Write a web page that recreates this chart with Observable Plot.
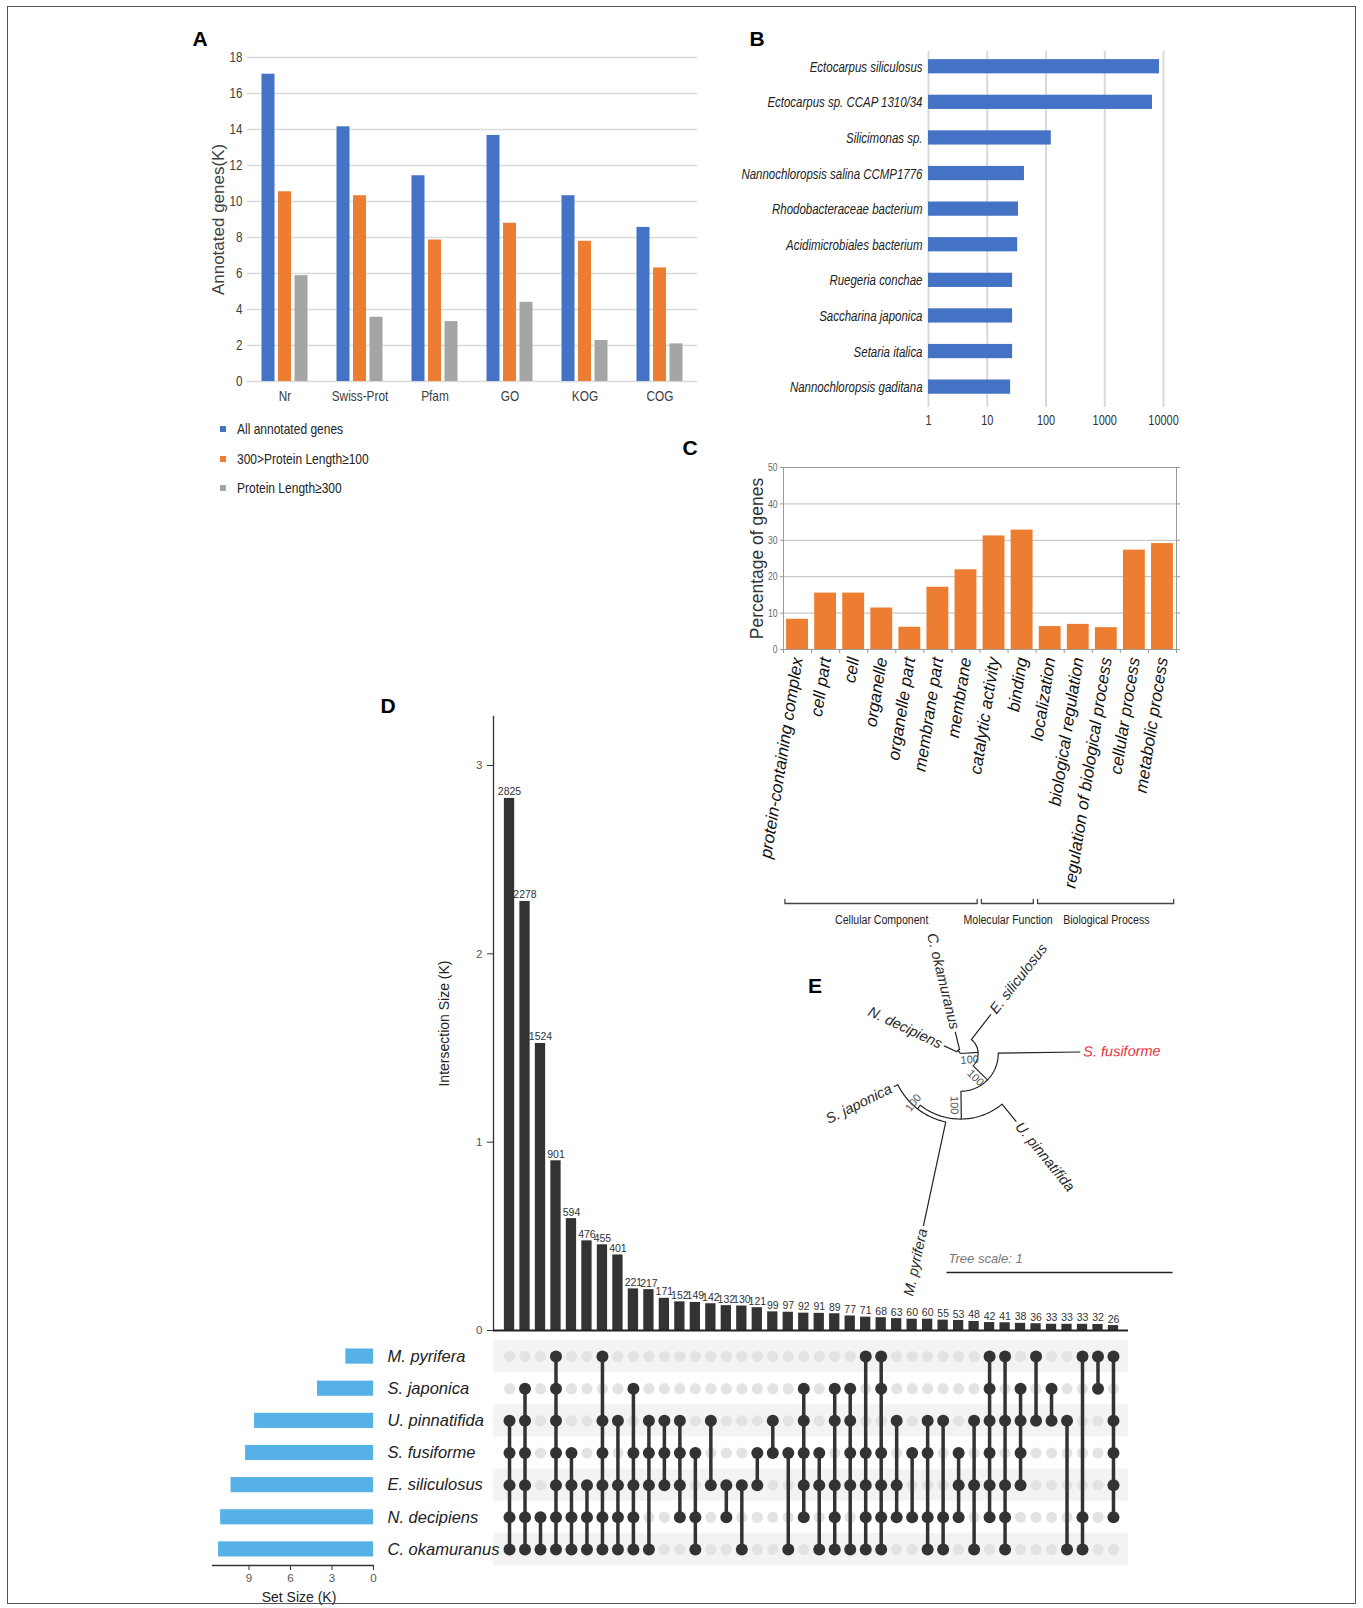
<!DOCTYPE html>
<html><head><meta charset="utf-8">
<script src="https://cdn.jsdelivr.net/npm/d3@7"></script>
<script src="https://cdn.jsdelivr.net/npm/@observablehq/plot@0.6"></script>
<style>
html,body{margin:0;padding:0;background:#fff;}
#page{position:relative;width:1363px;height:1608px;overflow:hidden;background:#fff;font-family:"Liberation Sans",Arial,Helvetica,sans-serif;}
.panel{position:absolute;}
.panel svg{display:block;max-width:none;}
.letter{position:absolute;font-weight:bold;font-size:21px;line-height:1;transform:translate(-50%,-50%);color:#000;}
#border{position:absolute;left:7px;top:6px;width:1349px;height:1598px;border:1.5px solid #555;box-sizing:border-box;}
.leg{position:absolute;font-size:15px;color:#222;white-space:nowrap;line-height:16px;}
.leg span{display:inline-block;transform:scaleX(0.8);transform-origin:0 50%;}
.leg i{position:absolute;width:6px;height:6px;left:-17px;top:5px;}
</style></head>
<body><div id="page"><div id="border"></div></div>
<script>
// ================= DATA =================
// Panel A
const dbs = ["Nr","Swiss-Prot","Pfam","GO","KOG","COG"];
const seriesA = ["All annotated genes","300>Protein Length\u2265100","Protein Length\u2265300"];
const allAnnotated = [17.07,14.15,11.43,13.67,10.32,8.56];
const len100to300 = [10.54,10.32,7.86,8.79,7.79,6.31];
const len300 = [5.88,3.57,3.33,4.40,2.28,2.09];
const ticksA = [0,2,4,6,8,10,12,14,16,18];

// Panel B
const species = ["Ectocarpus siliculosus","Ectocarpus sp. CCAP 1310/34","Silicimonas sp.","Nannochloropsis salina CCMP1776","Rhodobacteraceae bacterium","Acidimicrobiales bacterium","Ruegeria conchae","Saccharina japonica","Setaria italica","Nannochloropsis gaditana"];
const hits = [8550,6500,123,43,34,33,27,27,27,25];
const ticksB = [1,10,100,1000,10000];

// Panel C
const goTerms = ["protein-containing complex","cell part","cell","organelle","organelle part","membrane part","membrane","catalytic activity","binding","localization","biological regulation","regulation of biological process","cellular process","metabolic process"];
const goPct = [8.3,15.5,15.5,11.4,6.1,17.1,21.9,31.2,32.8,6.3,6.9,6.0,27.3,29.1];
const goGroups = ["Cellular Component","Molecular Function","Biological Process"];
const goGroupSizes = [7,2,5];
const ticksC = [0,10,20,30,40,50];

// Panel D
const setNames = ["M. pyrifera","S. japonica","U. pinnatifida","S. fusiforme","E. siliculosus","N. decipiens","C. okamuranus"];
const setCodes = ["M","Sj","U","Sf","E","N","C"];
const setSizesK = [2.0,4.05,8.6,9.25,10.3,11.05,11.2];
const intersectionSizes = [2825,2278,1524,901,594,476,455,401,221,217,171,152,149,142,132,130,121,99,97,92,91,89,77,71,68,63,60,60,55,53,48,42,41,38,36,33,33,33,32,26];
const intersectionMembers = ["U Sf E N C","Sj U Sf E N C","N C","M Sj U Sf E N C","Sf E N C","E N C","M U Sf E N C","U E N C","Sj Sf E N C","U Sf E C",
 "U Sf E","U Sf E N","Sf N C","U E","E N","E C","Sf E","U Sf","Sf C","Sj U Sf E N",
 "Sf E C","Sj U E N C","Sj U Sf E C","M Sf E N C","M Sj Sf E N C","U E N","Sf N","U Sf N C","U N C","Sf E N",
 "U E C","M Sj U Sf E N","M U E N C","Sj U Sf E","M U","Sj U","U C","M N C","M Sj","M U Sf E N"];
const ticksD = [0,1,2,3];
const ticksSet = [0,3,6,9];

// Panel E (phylogeny: node, parent, branch length, bootstrap)
const treeNodeNames = ["root","NC","N. decipiens","C. okamuranus","R","E. siliculosus","P","S. fusiforme","Q","U. pinnatifida","MS","M. pyrifera","S. japonica"];
const treeParents = [null,"root","NC","NC","root","R","R","P","P","Q","Q","MS","MS"];
const treeBranchLengths = [0,0.018,0.062,0.08,0.078,0.142,0.089,0.363,0.123,0.10,0.02,0.47,0.02];
const treeSupport = [null,null,null,null,100,null,100,null,100,null,100,null,null];
const highlightLeaf = "S. fusiforme";
const treeScaleLength = 1;

// ================= STYLE / HELPERS =================
const F = '"Liberation Sans", Arial, Helvetica, sans-serif';
const colorsA = ["#4472C4","#ED7D31","#A5A5A5"];
const page = document.getElementById("page");
function place(node, left, top, w, h) {
  const d = document.createElement("div");
  d.className = "panel";
  d.style.left = left + "px"; d.style.top = top + "px";
  d.style.width = w + "px"; d.style.height = h + "px";
  d.appendChild(node); page.appendChild(d);
  return node;
}
function letter(t, x, y) {
  const d = document.createElement("div"); d.className = "letter"; d.textContent = t;
  d.style.left = x + "px"; d.style.top = y + "px"; page.appendChild(d);
}
// condense text glyphs horizontally (narrow typeface look), keeping them as real text
function condense(svg, selector, factor) {
  svg.querySelectorAll(selector).forEach(t => {
    const w = t.getComputedTextLength();
    if (w > 0) { t.setAttribute("textLength", (w * factor).toFixed(1)); t.setAttribute("lengthAdjust", "spacingAndGlyphs"); }
  });
}
const TICKY = 'g[aria-label="y-axis tick label"] text', TICKX = 'g[aria-label="x-axis tick label"] text';
const baseStyle = {fontFamily: F, fontSize: "12px", color: "#333", background: "transparent", overflow: "visible"};

// ================= PANEL A =================
{
  const W = 530, H = 380, mL = 57, mR = 23;
  const band = (W - mL - mR) / dbs.length;
  const barW = 13, barStep = 16.5, groupStart = (band - (2 * barStep + barW)) / 2;
  const valsA = [allAnnotated, len100to300, len300];
  const marks = [
    Plot.gridY({ticks: ticksA, stroke: "#d9d9d9", strokeOpacity: 1, strokeWidth: 1.5}),
    Plot.axisY({ticks: ticksA, tickSize: 0, tickPadding: 5, fontSize: 14, fill: "#404040", label: null}),
    Plot.axisX({tickSize: 0, tickPadding: 9, fontSize: 15, fill: "#404040", label: null}),
    Plot.text(["Annotated genes(K)"], {frameAnchor: "left", textAnchor: "middle", rotate: -90, dx: -29, fontSize: 17, fill: "#404040"})
  ];
  valsA.forEach((vals, j) => {
    const il = groupStart + j * barStep;
    marks.push(Plot.barY(dbs.map((db, i) => ({db, v: vals[i]})), {x: "db", y: "v", fill: colorsA[j], insetLeft: il, insetRight: band - il - barW}));
  });
  const p = Plot.plot({
    width: W, height: H, marginLeft: mL, marginRight: mR, marginTop: 17, marginBottom: 39,
    style: baseStyle,
    x: {domain: dbs, padding: 0, round: false},
    y: {domain: [0, 18]},
    marks
  });
  place(p, 190, 40, W, H);
  condense(p, TICKY, 0.83);
  condense(p, TICKX, 0.79);
  // legend
  const ys = [421, 451, 480];
  seriesA.forEach((s, j) => {
    const d = document.createElement("div"); d.className = "leg";
    d.style.left = "237px"; d.style.top = ys[j] + "px";
    const sq = document.createElement("i"); sq.style.background = colorsA[j];
    const sp = document.createElement("span"); sp.textContent = s;
    d.appendChild(sq); d.appendChild(sp); page.appendChild(d);
  });
}
letter("A", 200, 38);

// ================= PANEL B =================
{
  const W = 470, H = 395;
  const dataB = species.map((name, i) => ({name, v: hits[i]}));
  const p = Plot.plot({
    width: W, height: H, marginLeft: 208, marginRight: 27, marginTop: 11, marginBottom: 28,
    style: baseStyle,
    x: {type: "log", domain: [1, 10000]},
    y: {domain: species, paddingInner: 0.6, paddingOuter: 0.3, align: 0.38, round: false},
    marks: [
      Plot.ruleX(ticksB, {stroke: "#d9d9d9", strokeWidth: 2}),
      Plot.barX(dataB, {x1: () => 1, x2: "v", y: "name", fill: "#4472C4"}),
      Plot.axisX({ticks: ticksB, tickFormat: d => String(d), tickSize: 0, tickPadding: 8, fontSize: 14, fill: "#333", label: null}),
      Plot.axisY({tickSize: 0, tickPadding: 6, fontSize: 15.5, fontStyle: "italic", fill: "#222", label: null})
    ]
  });
  place(p, 720, 40, W, H);
  condense(p, TICKY, 0.74);
  condense(p, TICKX, 0.78);
}
letter("B", 757, 38);

// ================= PANEL C =================
{
  const W = 510, H = 480;
  const dataC = goTerms.map((t, i) => ({t, i, v: goPct[i]}));
  const p = Plot.plot({
    width: W, height: H, marginLeft: 103, marginRight: 14, marginTop: 12, marginBottom: 286,
    style: baseStyle,
    x: {domain: [0, goTerms.length], axis: null},
    y: {domain: [0, 50]},
    marks: [
      Plot.gridY({ticks: [10, 20, 30, 40], stroke: "#bdbdbd", strokeOpacity: 1}),
      Plot.frame({stroke: "#9a9a9a"}),
      Plot.rectY(dataC, {x1: "i", x2: d => d.i + 1, y: "v", fill: "#ED7D31", insetLeft: 3.1, insetRight: 3.1}),
      Plot.axisY({ticks: ticksC, tickSize: 3, tickPadding: 3, fontSize: 11.5, fill: "#666", stroke: "#9a9a9a", label: null}),
      Plot.axisY({anchor: "right", ticks: ticksC, tickSize: 3, tickFormat: () => "", stroke: "#9a9a9a", label: null}),
      Plot.axisX({ticks: d3.range(goTerms.length + 1), tickSize: 4, tickFormat: () => "", stroke: "#9a9a9a", label: null}),
      Plot.text(["Percentage of genes"], {frameAnchor: "left", textAnchor: "middle", rotate: -90, dx: -26, fontSize: 17.5, fill: "#333"}),
      Plot.text(dataC, {x: d => d.i + 0.5, y: () => 0, text: "t", rotate: -81, textAnchor: "end", dy: 8, fontSize: 17, fontStyle: "italic", fill: "#111"})
    ]
  });
  place(p, 680, 455, W, H);
  condense(p, TICKY, 0.75);

  // group brackets
  let acc = 0;
  const groups = goGroups.map((g, k) => { const s = acc; acc += goGroupSizes[k]; return {g, s, e: acc}; });
  const pts = groups.flatMap(({g, s, e}) => [
    {g, x: s + 0.05, y: 1}, {g, x: s + 0.05, y: 0}, {g, x: e - 0.1, y: 0}, {g, x: e - 0.1, y: 1}
  ]);
  const p2 = Plot.plot({
    width: W, height: 40, marginLeft: 103, marginRight: 14, marginTop: 4, marginBottom: 32,
    style: baseStyle,
    x: {domain: [0, goTerms.length], axis: null},
    y: {domain: [0, 1], axis: null},
    marks: [
      Plot.line(pts, {x: "x", y: "y", z: "g", stroke: "#444", strokeWidth: 1.3}),
      Plot.text(groups, {x: d => (d.s + d.e) / 2, y: () => 0, text: "g", dy: 17, fontSize: 12, fill: "#222"})
    ]
  });
  place(p2, 680, 895, W, 40);
  condense(p2, "text", 0.88);
}
letter("C", 690, 447);

// ================= PANEL D =================
const inter = intersectionSizes.map((n, i) => ({i, n, k: n / 1000, members: intersectionMembers[i].split(" ")}));
const cells = inter.flatMap(d => setCodes.map((c, r) => ({i: d.i, r, on: d.members.includes(c)})));
const onCells = cells.filter(c => c.on);
const xDomainD = [-1.035, 39.97];
{
  const W = 760, H = 645;
  const p = Plot.plot({
    width: W, height: H, marginLeft: 113, marginRight: 12, marginTop: 16, marginBottom: 15,
    style: baseStyle,
    x: {domain: xDomainD, axis: null},
    y: {domain: [0, 3.26]},
    marks: [
      Plot.rectY(inter, {x1: d => d.i - 0.5, x2: d => d.i + 0.5, y: "k", fill: "#333", insetLeft: 2.6, insetRight: 2.6}),
      Plot.text(inter, {x: "i", y: "k", text: d => String(d.n), dy: -3, lineAnchor: "bottom", fontSize: 10.5, fill: "#333"}),
      Plot.axisY({ticks: ticksD, tickFormat: d => String(d), tickSize: 6, tickPadding: 5, fontSize: 11.5, fill: "#555", stroke: "#333", label: null}),
      Plot.frame({anchor: "left", stroke: "#333", strokeWidth: 1.3}),
      Plot.ruleY([0], {stroke: "#222", strokeWidth: 2}),
      Plot.text(["Intersection Size (K)"], {frameAnchor: "left", textAnchor: "middle", rotate: -90, dx: -49, fontSize: 14, fill: "#222"})
    ]
  });
  place(p, 380, 700, W, H);
}
{
  const W = 760, H = 230;
  const stripes = setNames.map((s, r) => ({r})).filter(d => d.r % 2 === 0);
  const p = Plot.plot({
    width: W, height: H, marginLeft: 113, marginRight: 12, marginTop: 2, marginBottom: 3,
    style: baseStyle,
    x: {domain: xDomainD, axis: null},
    y: {domain: [setNames.length - 0.5, -0.5], axis: null},
    marks: [
      Plot.rect(stripes, {y1: d => d.r - 0.5, y2: d => d.r + 0.5, fill: "#f3f3f3"}),
      Plot.dot(cells.filter(c => !c.on), {x: "i", y: "r", r: 5.6, fill: "#e3e3e3", stroke: null}),
      Plot.line(onCells, {x: "i", y: "r", z: "i", stroke: "#333", strokeWidth: 3.5}),
      Plot.dot(onCells, {x: "i", y: "r", r: 6, fill: "#333", stroke: null})
    ]
  });
  place(p, 380, 1338, W, H);
}
{
  const W = 300, H = 270;
  const sets = setNames.map((name, r) => ({name, r, k: setSizesK[r]}));
  const p = Plot.plot({
    width: W, height: H, marginLeft: 12, marginRight: 127, marginTop: 2, marginBottom: 43,
    style: baseStyle,
    x: {domain: [0, 11.64], reverse: true},
    y: {domain: [setNames.length - 0.5, -0.5], axis: null},
    marks: [
      Plot.rectX(sets, {x: "k", y1: d => d.r - 0.5, y2: d => d.r + 0.5, insetTop: 8.5, insetBottom: 8.5, fill: "#56B1E6"}),
      Plot.text(sets, {x: () => 0, y: "r", text: "name", dx: 14, textAnchor: "start", fontSize: 16.5, fontStyle: "italic", fill: "#222"}),
      Plot.axisX({ticks: ticksSet, tickSize: 5, tickPadding: 3, fontSize: 11.5, fill: "#555", stroke: "#333", label: null}),
      Plot.frame({anchor: "bottom", stroke: "#333", strokeWidth: 1.3}),
      Plot.text(["Set Size (K)"], {frameAnchor: "bottom", lineAnchor: "middle", dy: 32, dx: 6, fontSize: 14, fill: "#222"})
    ]
  });
  place(p, 200, 1338, W, H);
}
letter("D", 388, 705);

// ================= PANEL E =================
{
  const W = 400, H = 370, unitPx = 226, cx = 180, cy = 133;
  const root = d3.stratify().id(d => d.name).parentId(d => d.parent)(
    treeNodeNames.map((name, i) => ({name, parent: treeParents[i], bl: treeBranchLengths[i], support: treeSupport[i]})));
  const startAngle = 205;
  const leaves = root.leaves();
  leaves.forEach((l, k) => { l.angle = startAngle + k * 360 / leaves.length; });
  root.eachAfter(n => { if (n.children) n.angle = (n.children[0].angle + n.children[n.children.length - 1].angle) / 2; });
  root.eachBefore(n => { n.radius = (n.parent ? n.parent.radius : 0) + n.data.bl; });
  const rad = a => a * Math.PI / 180;
  const pol = (r, a) => [r * Math.cos(rad(a)), r * Math.sin(rad(a))];
  const norm = a => ((a % 360) + 360) % 360;
  const branches = root.descendants().filter(n => n.parent).map(n => {
    const [x1, y1] = pol(n.parent.radius, n.angle), [x2, y2] = pol(n.radius, n.angle);
    return {x1, y1, x2, y2};
  });
  const arcs = root.descendants().filter(n => n.children && n.radius > 0).flatMap(n => {
    const a0 = n.children[0].angle, a1 = n.children[n.children.length - 1].angle, steps = 60;
    return d3.range(steps + 1).map(s => { const [x, y] = pol(n.radius, a0 + (a1 - a0) * s / steps); return {id: n.id, x, y}; });
  });
  const gap = 3 / unitPx;
  const labels = leaves.map(l => {
    const a = norm(l.angle), right = a < 90 || a > 270;
    const [x, y] = pol(l.radius + gap, l.angle);
    return {name: l.id, x, y, rot: right ? a : a - 180, right, color: l.id === highlightLeaf ? "#E8333D" : "#2a2a2a"};
  });
  const off = 7 / unitPx;
  const supports = root.descendants().filter(n => n.data.support != null).map(n => {
    const [bx, by] = pol((n.parent.radius + n.radius) / 2, n.angle), [ox, oy] = pol(off, n.angle + 90);
    const a = norm(n.angle);
    return {x: bx + ox, y: by + oy, t: String(n.data.support), rot: (a < 90 || a > 270) ? a : a - 180};
  });
  const xd = [-cx / unitPx, (W - cx) / unitPx], yd = [-cy / unitPx, (H - cy) / unitPx];
  const sbRight = xd[1] - 8 / unitPx, sbY = yd[1] - 18 / unitPx;
  const scaleBar = [{x1: sbRight - treeScaleLength, x2: sbRight, y: sbY, t: "Tree scale: " + treeScaleLength}];
  const p = Plot.plot({
    width: W, height: H, margin: 0,
    style: baseStyle,
    x: {domain: xd, axis: null},
    y: {domain: yd, reverse: true, axis: null},
    marks: [
      Plot.line(arcs, {x: "x", y: "y", z: "id", stroke: "#222", strokeWidth: 1.2}),
      Plot.link(branches, {x1: "x1", y1: "y1", x2: "x2", y2: "y2", stroke: "#222", strokeWidth: 1.2}),
      Plot.text(labels.filter(d => d.right), {x: "x", y: "y", text: "name", rotate: "rot", textAnchor: "start", fill: "color", fontSize: 14.5, fontStyle: "italic"}),
      Plot.text(labels.filter(d => !d.right), {x: "x", y: "y", text: "name", rotate: "rot", textAnchor: "end", fill: "color", fontSize: 14.5, fontStyle: "italic"}),
      Plot.text(supports, {x: "x", y: "y", text: "t", rotate: "rot", fontSize: 11, fill: "#555"}),
      Plot.link(scaleBar, {x1: "x1", x2: "x2", y1: "y", y2: "y", stroke: "#222", strokeWidth: 1.5}),
      Plot.text(scaleBar, {x: "x1", y: "y", text: "t", textAnchor: "start", dx: 2, dy: -14, fontSize: 13, fontStyle: "italic", fill: "#777"})
    ]
  });
  place(p, 780, 920, W, H);
}
letter("E", 815, 985);
</script>
</body></html>
